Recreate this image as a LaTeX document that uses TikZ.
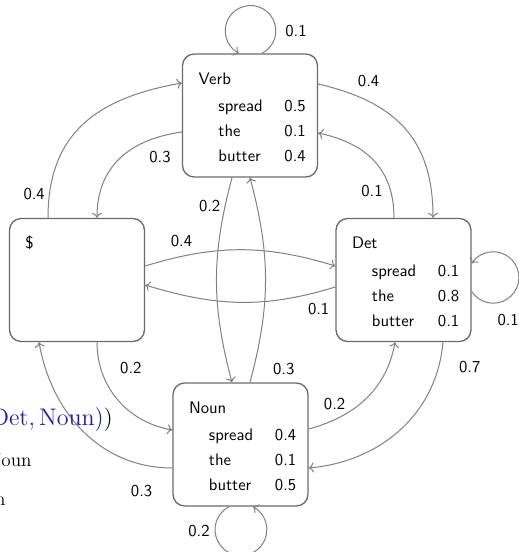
\documentclass[tikz,border=0pt]{standalone}
\usepackage{xcolor}
\usepackage{tikz}
\usetikzlibrary{arrows.meta, calc}

\definecolor{boxgray}{gray}{0.42}
\definecolor{linegray}{gray}{0.5}
\definecolor{slideblue}{RGB}{28,28,168}

% Emissionstabelle eines Zustands
\newcommand{\emission}[4]{%
  \renewcommand{\arraystretch}{1.25}%
  \begin{tabular}[t]{@{}l@{\hspace{12pt}}l@{\hspace{13pt}}l@{}}
    \multicolumn{3}{@{}l@{}}{#1}\\[1.8pt]
    & spread & #2\\
    & the    & #3\\
    & butter & #4
  \end{tabular}}

\begin{document}
\begin{tikzpicture}[
  x=0.6pt, y=0.6pt,
  font=\sffamily,
  hmmstate/.style={
    draw=boxgray,
    line width=0.8pt,
    rounded corners=7pt,
    minimum width=81pt,
    minimum height=73.8pt,
    inner sep=0pt,
    text width=61.8pt,
    align=left,
    text height=8pt,
    text depth=45.8pt
  },
  trans/.style={draw=linegray, line width=0.6pt, -{To[length=3pt, width=6pt]}},
  prob/.style={inner sep=2.5pt},
  slidetext/.style={inner sep=0pt, anchor=base east}
]
\useasboundingbox (0,0) rectangle (519,552);
\clip (0,0) rectangle (519,552);

% Zustaende
\node[hmmstate] (verb)  at (250,436.5)   {\emission{Verb}{0.5}{0.1}{0.4}};
\node[hmmstate] (start) at (77,272)      {\$};
\node[hmmstate] (det)   at (403.5,272)   {\emission{Det}{0.1}{0.8}{0.1}};
\node[hmmstate] (noun)  at (240.5,107.5) {\emission{Noun}{0.4}{0.1}{0.5}};

% Uebergaenge
\draw[trans] ($(verb.east)+(0,31.5)$) to[out=-13, in=90, looseness=1.15]
  node[prob, pos=0.25, above=6pt] (pvd) {0.4} ($(det.north)+(29.5,0)$);
\draw[trans] ($(det.north)+(-9.5,0)$) to[out=90, in=-12, looseness=1.1]
  node[prob, pos=0.2, left=2pt] (pdv) {0.1} ($(verb.east)+(0,-17.5)$);
\draw[trans] ($(start.north)+(-29,0)$) to[out=90, in=190, looseness=1.15]
  node[prob, pos=0.1, left] (psv) {0.4} ($(verb.west)+(0,32.5)$);
\draw[trans] ($(verb.west)+(0,-16.5)$) to[out=188, in=90, looseness=1.1]
  node[prob, pos=0.15, below=6pt] (pvs) {0.3} ($(start.north)+(20,0)$);
\draw[trans] ($(start.east)+(0,14)$) to[out=17, in=163]
  node[prob, pos=0.18, above=3pt] (psd) {0.4} ($(det.west)+(0,14)$);
\draw[trans] ($(det.west)+(0,-7)$) to[out=197, in=-17]
  node[prob, pos=0.08, below=4pt] (pds) {0.1} ($(start.east)+(0,-5)$);
\draw[trans] ($(start.south)+(20,0)$) to[out=-90, in=170]
  node[prob, pos=0.2, right=9pt] (psn) {0.2} ($(noun.west)+(0,14.5)$);
\draw[trans] ($(noun.west)+(0,-23.5)$) to[out=180, in=-80]
  node[prob, pos=0.15, below=9.5pt] (pns) {0.3} ($(start.south)+(-38,0)$);
\draw[trans] ($(verb.south)+(-18,0)$) to[out=-105, in=105]
  node[prob, pos=0.13, left] (pvn) {0.2} ($(noun.north)+(-8.5,0)$);
\draw[trans] ($(noun.north)+(9.5,0)$) to[out=75, in=-75]
  node[prob, pos=0.06, right=9pt] (pnv) {0.3} (verb.south);
\draw[trans] ($(noun.east)+(0,15.5)$) to[out=15, in=-100]
  node[prob, pos=0.2, above=3pt] (pnd) {0.2} ($(det.south)+(-8.5,0)$);
\draw[trans] ($(det.south)+(39.5,0)$) to[out=-95, in=5]
  node[prob, pos=0.12, right=9.5pt] (pdn) {0.7} ($(noun.east)+(0,-23.5)$);

% Schleifen
\draw[trans] ($(verb.north)+(12,0)$) arc[start angle=-63, end angle=243, radius=25.3];
\node[prob] (pvv) at ($(verb.north)+(46,22)$) {0.1};
\draw[trans] ($(det.east)+(0,-11.5)$) arc[start angle=-147, end angle=147, radius=25.7];
\node[prob] (pdd) at ($(det.east)+(36.5,-40)$) {0.1};
\draw[trans] ($(noun.south)+(-11.5,0)$) arc[start angle=117.5, end angle=422.5, radius=25.9];
\node[prob] (pnn) at ($(noun.south)+(-41.5,-24)$) {0.2};

% Reste der Folie am linken Rand
\node[slidetext, text=slideblue, font=\rmfamily\fontsize{14}{17}\selectfont] (restA)
  at (113,127) {$(\mathrm{Det},\mathrm{Noun})$\textcolor{black}{)}};
\node[slidetext, font=\rmfamily\fontsize{11.5}{14}\selectfont] (restB) at (32,86) {Noun};
\node[slidetext, font=\rmfamily\fontsize{11.5}{14}\selectfont] (restC) at (6,47) {n};
\end{tikzpicture}
\end{document}
